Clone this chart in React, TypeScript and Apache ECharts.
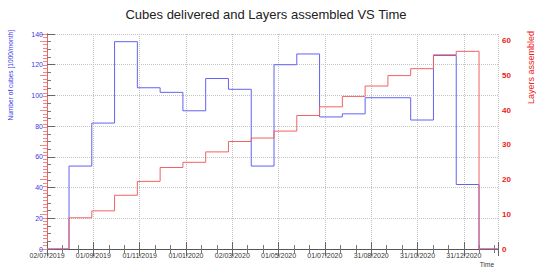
import React, { useEffect, useRef } from "react";
import * as echarts from "echarts";

// ---- data ----
const tickLabels = [
  "02/07/2019", "01/09/2019", "01/11/2019", "01/01/2020", "02/03/2020",
  "01/05/2020", "01/07/2020", "31/08/2020", "31/10/2020", "31/12/2020",
];
const cubesDelivered = [54, 82, 135, 105, 102, 90, 111, 104, 54, 120, 127, 86, 88, 98.5, 98.5, 84, 126, 42];
const layersAssembled = [9, 11, 15.5, 19.5, 23.5, 25, 28, 31, 32, 34, 38.5, 41, 44, 47, 50, 52, 56, 57];

// time axis in days since 02/07/2019
const firstBinDay = 29;
const binDays = 30;
const axisEndDay = 594;
const tickStepDays = 61;
const cubesMax = 140;
const layersMax = 62;

const FONT = "Liberation Sans, Arial, Helvetica, sans-serif";
const BLUE = "#6262f2";
const RED = "#f26262";
const RED_TICK = "#f08a8a";

function histPoints(values: number[]): number[][] {
  const pts: number[][] = [[0, 0], [firstBinDay, 0]];
  values.forEach((v, i) => {
    const a = firstBinDay + i * binDays;
    const b = a + binDays;
    pts.push([a, v], [b, v]);
  });
  const end = firstBinDay + values.length * binDays;
  pts.push([end, 0], [axisEndDay, 0]);
  return pts;
}

export default function App() {
  const ref = useRef<HTMLDivElement>(null);
  useEffect(() => {
    if (!ref.current) return;
    const chart = echarts.init(ref.current, undefined, { renderer: "svg" });
    const xLabel = (v: number) => {
      const i = Math.round(v / tickStepDays);
      return Math.abs(v - i * tickStepDays) < 0.01 && i < tickLabels.length ? tickLabels[i] : "";
    };
    chart.setOption({
      animation: false,
      grid: { left: 47, right: 39, top: 34, bottom: 19, containLabel: false },
      xAxis: [
        {
          type: "value",
          min: 0,
          max: axisEndDay,
          interval: tickStepDays,
          position: "bottom",
          axisLine: { show: true, lineStyle: { color: "#555", width: 1 } },
          axisTick: { show: true, inside: true, length: 7, lineStyle: { color: "#666" } },
          minorTick: { show: true, splitNumber: 3, length: 4, lineStyle: { color: "#777" } },
          axisLabel: { formatter: xLabel, fontSize: 7, color: "#333", fontFamily: FONT, margin: 3, showMaxLabel: false },
          splitLine: { show: true, lineStyle: { color: "#c4c4c4", type: "dotted", width: 1 } },
        },
        {
          type: "value",
          min: 0,
          max: axisEndDay,
          interval: tickStepDays,
          position: "top",
          axisLine: { show: true, lineStyle: { color: "#555", width: 1 } },
          axisTick: { show: true, inside: true, length: 7, lineStyle: { color: "#666" } },
          minorTick: { show: true, splitNumber: 3, length: 4, lineStyle: { color: "#777" } },
          axisLabel: { show: false },
          splitLine: { show: false },
        },
      ],
      yAxis: [
        {
          type: "value",
          min: 0,
          max: cubesMax,
          interval: 20,
          position: "left",
          axisLine: { show: true, lineStyle: { color: "#555", width: 1 } },
          axisTick: { show: true, inside: true, length: 8, lineStyle: { color: "#666" } },
          minorTick: { show: true, splitNumber: 4, length: 4, lineStyle: { color: "#777" } },
          axisLabel: { fontSize: 7, color: "#3a3ae6", fontFamily: FONT, margin: 4 },
          splitLine: { show: true, lineStyle: { color: "#c4c4c4", type: "dotted", width: 1 } },
        },
        {
          type: "value",
          min: 0,
          max: layersMax,
          interval: 10,
          position: "right",
          axisLine: { show: true, lineStyle: { color: RED, width: 1 } },
          axisTick: { show: true, inside: true, length: 7, lineStyle: { color: RED_TICK } },
          minorTick: { show: true, splitNumber: 10, length: 4, lineStyle: { color: RED_TICK } },
          axisLabel: {
            fontSize: 8, color: "#ee2020", fontFamily: FONT, margin: 4, fontWeight: "bold",
            formatter: (v: number) => (v % 10 === 0 ? String(v) : ""),
          },
          splitLine: { show: false },
        },
      ],
      series: [
        {
          type: "line",
          xAxisIndex: 0,
          yAxisIndex: 0,
          data: histPoints(cubesDelivered),
          symbol: "none",
          lineStyle: { color: BLUE, width: 1 },
          z: 3,
        },
        {
          type: "line",
          xAxisIndex: 0,
          yAxisIndex: 1,
          data: histPoints(layersAssembled),
          symbol: "none",
          lineStyle: { color: RED, width: 1 },
          z: 4,
        },
      ],
      graphic: [
        {
          type: "text",
          x: 266,
          y: 14.5,
          style: {
            text: "Cubes delivered and Layers assembled VS Time",
            fontSize: 13, fontFamily: FONT, fill: "#222",
            textAlign: "center", textVerticalAlign: "middle", align: "center", verticalAlign: "middle",
          },
        },
        {
          type: "text",
          x: 10,
          y: 30,
          rotation: Math.PI / 2,
          style: {
            text: "Number of cubes [1000/month]",
            fontSize: 6.6, fontFamily: FONT, fill: "#3a3ae6",
            textAlign: "right", textVerticalAlign: "middle", align: "right", verticalAlign: "middle",
          },
        },
        {
          type: "text",
          x: 531,
          y: 31,
          rotation: Math.PI / 2,
          style: {
            text: "Layers assembled",
            fontSize: 9, fontFamily: FONT, fill: "#ee2020",
            textAlign: "right", textVerticalAlign: "middle", align: "right", verticalAlign: "middle",
          },
        },
        {
          type: "text",
          x: 494,
          y: 264,
          style: {
            text: "Time",
            fontSize: 6.5, fontFamily: FONT, fill: "#333",
            textAlign: "right", textVerticalAlign: "middle", align: "right", verticalAlign: "middle",
          },
        },
      ],
    });
    return () => chart.dispose();
  }, []);
  return (
    <div
      ref={ref}
      style={{ position: "fixed", left: 0, top: 0, width: 537, height: 268, background: "#fff" }}
    />
  );
}
